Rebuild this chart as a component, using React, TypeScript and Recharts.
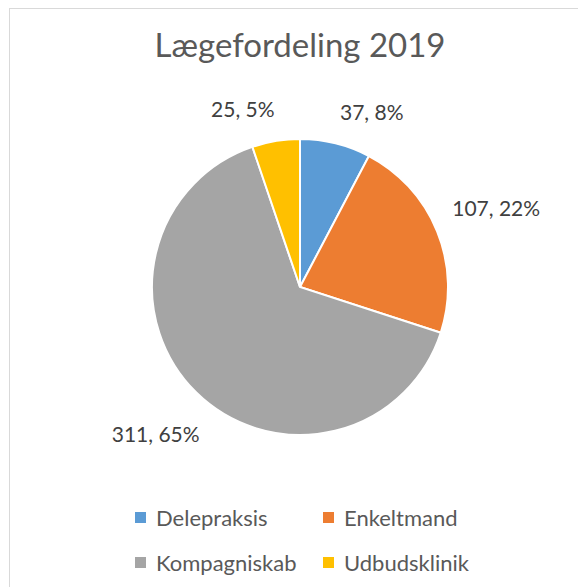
import { Legend, Pie, PieChart, Cell } from "recharts";

const categories = ["Delepraksis", "Enkeltmand", "Kompagniskab", "Udbudsklinik"];
const values = [37, 107, 311, 25];
const sliceColors = ["#5B9BD5", "#ED7D31", "#A5A5A5", "#FFC000"];
const chartTitle = "Lægefordeling 2019";

const data = categories.map((name, i) => ({ name, value: values[i] }));

const W = 578;
const H = 587;
const CX = 300;
const CY = 287;
const R = 148;
const FONT = "Lato, 'Open Sans', sans-serif";

// label angles (deg, clockwise from 12 o'clock), nudged apart when crowded
const total = values.reduce((a, b) => a + b, 0);
const labelAngles = (() => {
  let acc = 0;
  const mids = values.map((v) => {
    const m = ((acc + v / 2) / total) * 360;
    acc += v;
    return m;
  });
  const MIN_SEP = 40;
  for (let pass = 0; pass < 3; pass++) {
    for (let i = 0; i < mids.length; i++) {
      const j = (i + 1) % mids.length;
      let sep = mids[j] - mids[i];
      if (sep < 0) sep += 360;
      if (sep < MIN_SEP) {
        const push = (MIN_SEP - sep) / 2;
        mids[i] -= push;
        mids[j] += push;
      }
    }
  }
  return mids;
})();

function renderLabel(props: any) {
  const { index, value, percent } = props;
  const text = `${value}, ${Math.round(percent * 100)}%`;
  const a = (labelAngles[index] * Math.PI) / 180;
  const ux = Math.sin(a);
  const uy = -Math.cos(a);
  const hw = text.length * 5.4;
  const hh = 10;
  const d = R + 20 + hw * Math.abs(ux) + hh * Math.abs(uy);
  return (
    <text
      x={CX + d * ux}
      y={CY + d * uy}
      textAnchor="middle"
      dominantBaseline="central"
      fill="#404040"
      fontSize={21}
      fontFamily={FONT}
    >
      {text}
    </text>
  );
}

function LegendGrid({ payload }: any) {
  const items = payload && payload.length ? payload : data.map((d, i) => ({ value: d.name, color: sliceColors[i] }));
  return (
    <div
      style={{
        display: "grid",
        gridTemplateColumns: "188px 188px",
        rowGap: 0,
        marginLeft: 135,
        fontFamily: FONT,
        fontSize: 22,
        color: "#595959",
      }}
    >
      {items.map((it: any) => (
        <div key={it.value} style={{ display: "flex", alignItems: "center", height: 45 }}>
          <span
            style={{
              display: "inline-block",
              width: 11,
              height: 11,
              background: it.color,
              marginRight: 10,
            }}
          />
          <span>{it.value}</span>
        </div>
      ))}
    </div>
  );
}

export default function App() {
  return (
    <div
      style={{
        position: "absolute",
        left: 0,
        top: 0,
        width: W,
        height: H,
        overflow: "hidden",
        background: "#fff",
      }}
    >
      <div
        style={{
          position: "absolute",
          left: 9,
          top: 8,
          width: 620,
          height: 620,
          border: "1px solid #d9d9d9",
        }}
      />
      <div
        style={{
          position: "absolute",
          left: 0,
          top: 28,
          width: 600,
          textAlign: "center",
          fontFamily: FONT,
          fontSize: 33,
          lineHeight: "33px",
          color: "#595959",
        }}
      >
        {chartTitle}
      </div>
      <div style={{ position: "absolute", left: 0, top: 0 }}>
        <PieChart width={W} height={H} margin={{ top: 0, right: 0, bottom: 0, left: 0 }}>
          <Pie
            data={data}
            dataKey="value"
            nameKey="name"
            cx={CX}
            cy={CY}
            outerRadius={R}
            startAngle={90}
            endAngle={-270}
            stroke="#ffffff"
            strokeWidth={2}
            label={renderLabel}
            labelLine={false}
            isAnimationActive={false}
          >
            {data.map((_, i) => (
              <Cell key={`cell-${i}`} fill={sliceColors[i]} />
            ))}
          </Pie>
          <Legend
            content={<LegendGrid />}
            wrapperStyle={{ left: 0, top: 495, width: W }}
          />
        </PieChart>
      </div>
    </div>
  );
}
